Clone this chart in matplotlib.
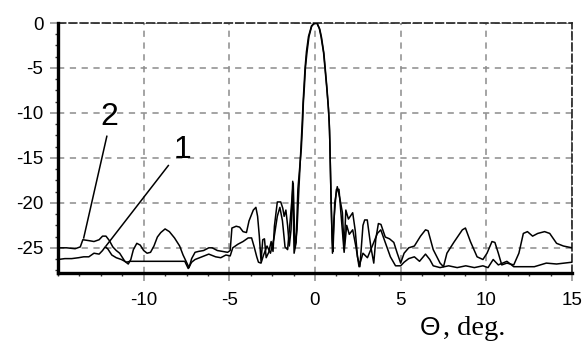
import matplotlib
matplotlib.use("Agg")
import matplotlib.pyplot as plt
from matplotlib.ticker import MultipleLocator, FixedLocator

plt.rcParams['axes.unicode_minus'] = False
plt.rcParams['lines.scale_dashes'] = False

# ---- data ----
theta1 = [-15.0, -14.6, -14.2, -13.8, -13.5, -13.2, -12.9, -12.6, -12.4, -12.25, -12.1, -11.86,
          -11.6, -11.3, -11.0, -10.8, -10.0, -9.0, -8.0, -7.6, -7.4, -7.2, -7.0, -6.6, -6.2, -5.8,
          -5.5, -5.2, -4.95, -4.8, -4.5, -4.2, -3.9, -3.7, -3.55, -3.4, -3.3, -3.15, -3.0, -2.8,
          -2.6, -2.4, -2.2, -2.05, -1.9, -1.75, -1.6, -1.45, -1.27, -1.17, -1.05, -0.95, -0.85,
          -0.75, -0.7, -0.64, -0.58, -0.5, -0.38, -0.2, 0.0, 0.12, 0.28, 0.38, 0.52, 0.6, 0.7,
          0.79, 0.85, 0.9, 0.95, 1.02, 1.1, 1.25, 1.4, 1.55, 1.7, 1.85, 2.0, 2.2, 2.4, 2.57, 2.8,
          3.06, 3.3, 3.64, 3.84, 4.1, 4.4, 4.7, 5.0, 5.2, 5.47, 5.8, 6.1, 6.45, 6.7, 6.9, 7.3,
          7.8, 8.3, 8.8, 9.3, 9.8, 10.1, 10.4, 10.7, 11.2, 11.6, 12.2, 12.8, 13.5, 14.1, 15.0]
db1 = [-26.3, -26.2, -26.2, -26.1, -26.0, -26.0, -25.6, -25.7, -25.3, -24.9, -25.1, -25.8,
       -26.1, -26.3, -26.6, -26.5, -26.5, -26.5, -26.5, -26.5, -27.3, -26.6, -26.3, -26.0, -25.7, -26.0,
       -26.1, -25.8, -25.9, -25.0, -24.6, -24.3, -23.9, -23.9, -24.9, -26.0, -26.6, -26.7, -25.8, -24.8,
       -25.6, -24.0, -21.5, -20.5, -22.0, -24.9, -25.2, -22.0, -17.8, -25.0, -23.0, -18.8, -15.0,
       -11.2, -9.0, -7.0, -5.0, -3.2, -1.5, -0.3, 0.0, 0.0, -0.7, -1.6, -3.4, -5.1, -7.3,
       -9.6, -12.0, -16.3, -20.5, -25.6, -22.0, -18.5, -18.5, -22.0, -25.5, -22.5, -23.5, -23.0, -25.0, -27.1, -25.6,
       -26.1, -25.0, -23.4, -23.0, -24.4, -26.0, -27.0, -27.0, -26.6, -26.2, -26.0, -26.5, -25.7, -26.3, -27.0, -27.2,
       -27.0, -27.2, -27.0, -27.2, -27.0, -27.2, -26.3, -26.9, -26.5, -27.1, -27.1, -27.1, -26.7, -26.8, -26.6]

theta2 = [-15.0, -14.5, -14.0, -13.7, -13.55, -13.2, -12.9, -12.6, -12.4, -12.2, -12.0, -11.8,
          -11.6, -11.4, -11.1, -10.9, -10.75, -10.6, -10.4, -10.2, -10.0, -9.8, -9.6, -9.4, -9.2,
          -9.0, -8.75, -8.5, -8.2, -7.9, -7.7, -7.5, -7.35, -7.2, -7.0, -6.8, -6.5, -6.2, -6.0,
          -5.7, -5.4, -5.1, -4.95, -4.85, -4.6, -4.4, -4.2, -4.0, -3.85, -3.6, -3.45, -3.35, -3.25,
          -3.15, -3.05, -2.95, -2.85, -2.7, -2.56, -2.45, -2.37, -2.2, -2.0, -1.88, -1.8, -1.7,
          -1.6, -1.5, -1.4, -1.3, -1.22, -1.1, -1.0, -0.8, -0.72, -0.68, -0.62, -0.56, -0.47,
          -0.35, -0.2, -0.05, 0.1, 0.25, 0.35, 0.5, 0.58, 0.68, 0.77, 0.83, 0.87, 0.93, 1.0, 1.05,
          1.15, 1.3, 1.45, 1.6, 1.7, 1.8, 1.95, 2.2, 2.35, 2.48, 2.62, 2.8, 2.9, 3.05, 3.26, 3.43,
          3.55, 3.7, 3.85, 4.1, 4.35, 4.6, 4.8, 5.0, 5.2, 5.47, 5.8, 6.16, 6.45, 6.6, 6.9, 7.3,
          7.5, 7.7, 8.1, 8.6, 8.78, 9.07, 9.46, 9.8, 10.04, 10.33, 10.5, 10.7, 10.9, 11.2, 11.6,
          11.9, 12.16, 12.4, 12.7, 13.0, 13.4, 13.7, 14.1, 14.5, 15.0]
db2 = [-25.0, -25.0, -25.1, -24.9, -24.1, -24.2, -24.3, -24.1, -23.7, -23.7, -24.2, -24.9,
       -25.3, -25.6, -26.5, -26.8, -26.3, -25.2, -24.5, -24.7, -25.3, -25.6, -25.5, -24.8, -23.8,
       -23.3, -22.9, -23.2, -23.9, -24.8, -25.8, -26.6, -27.2, -26.2, -25.5, -25.4, -25.3, -25.0, -25.0,
       -25.3, -25.4, -25.5, -25.3, -22.8, -22.6, -22.7, -23.2, -23.3, -22.0, -20.8, -20.5, -21.5, -23.7,
       -26.5, -24.1, -24.0, -26.1, -25.5, -24.3, -25.4, -22.6, -19.9, -19.9, -20.6, -21.5, -20.8,
       -22.5, -24.8, -23.0, -17.6, -25.6, -24.4, -18.5, -14.0, -11.0, -8.9, -7.1, -5.0, -3.3,
       -1.5, -0.4, 0.0, 0.0, -0.6, -1.5, -3.3, -5.0, -7.1, -9.2, -11.0, -13.5, -19.0, -24.0, -25.4,
       -20.0, -18.2, -19.5, -21.1, -25.2, -20.8, -21.8, -21.1, -23.1, -26.0, -27.1, -22.5, -21.9, -21.9, -24.9, -26.7,
       -24.0, -22.3, -22.4, -23.8, -24.0, -24.4, -25.6, -26.7, -25.6, -25.0, -24.8, -23.7, -23.0, -23.1, -25.2, -26.7,
       -27.1, -25.6, -24.4, -23.0, -22.8, -24.3, -26.0, -26.3, -25.6, -24.3, -24.4, -25.6, -26.9, -26.7, -26.9,
       -25.6, -23.4, -23.2, -23.7, -23.4, -23.2, -23.4, -24.5, -24.8, -25.0]

x_major = [-10, -5, 0, 5, 10, 15]
x_labels = ['-10', '-5', '0', '5', '10', '15']
y_major = [0, -5, -10, -15, -20, -25]
y_labels = ['0', '-5', '-10', '-15', '-20', '-25']

curve_labels = ['1', '2']
label_xy = [(-7.73, -14.1), (-12.0, -10.5)]
leader_from = [(-8.56, -15.85), (-12.15, -12.6)]
leader_to = [(-12.2, -24.8), (-13.5, -23.9)]

# ---- figure ----
fig = plt.figure(figsize=(5.85, 3.45), dpi=100)
ax = fig.add_axes([58 / 585, 1 - 273 / 345, (572 - 58) / 585, (273 - 23) / 345])
ax.set_xlim(-15, 15)
ax.set_ylim(-27.8, 0)

ax.plot(theta1, db1, color='black', lw=1.1, zorder=3)
ax.plot(theta2, db2, color='black', lw=1.1, zorder=3)

for (lx, ly), (fx, fy), (tx, ty), t in zip(label_xy, leader_from, leader_to, curve_labels):
    ax.plot([fx, tx], [fy, ty], color='black', lw=1.1, zorder=4)
    ax.text(lx, ly, t, fontsize=23, family='Liberation Sans', ha='center', va='center')

# grid
gcol = '#8c8c8c'
ax.xaxis.set_major_locator(FixedLocator(x_major))
ax.yaxis.set_major_locator(FixedLocator(y_major))
ax.set_xticklabels(x_labels)
ax.set_yticklabels(y_labels)
ax.xaxis.set_minor_locator(MultipleLocator(1.25))
ax.yaxis.set_minor_locator(MultipleLocator(1.25))
ax.grid(True, which='major', color=gcol, lw=1.1, linestyle=(0, (4.5, 4.0)))

for lab in ax.get_xticklabels() + ax.get_yticklabels():
    lab.set_family('Liberation Sans')
    lab.set_fontsize(13.5)

ax.tick_params(which='major', direction='out', length=5.5, width=1.1, color=gcol)
ax.tick_params(axis='x', which='major', pad=8)
ax.tick_params(axis='y', which='major', pad=5)
ax.tick_params(which='minor', direction='out', length=2.5, width=1.0, color='#333333')

for s in ['left', 'bottom']:
    ax.spines[s].set_linewidth(2.4)
    ax.spines[s].set_color('black')
    ax.spines[s].set_zorder(5)
for s in ['top', 'right']:
    ax.spines[s].set_linewidth(1.2)
    ax.spines[s].set_color('#222222')
    ax.spines[s].set_linestyle((0, (5.5, 2.5)))

fig.text(420 / 585, 1 - 335 / 345, 'Θ', fontsize=19, family='Liberation Sans', ha='left', va='baseline')
fig.text(443 / 585, 1 - 335 / 345, ', deg.', fontsize=20.5, family='Liberation Serif', ha='left', va='baseline')

fig.savefig('out.png', dpi=100)
